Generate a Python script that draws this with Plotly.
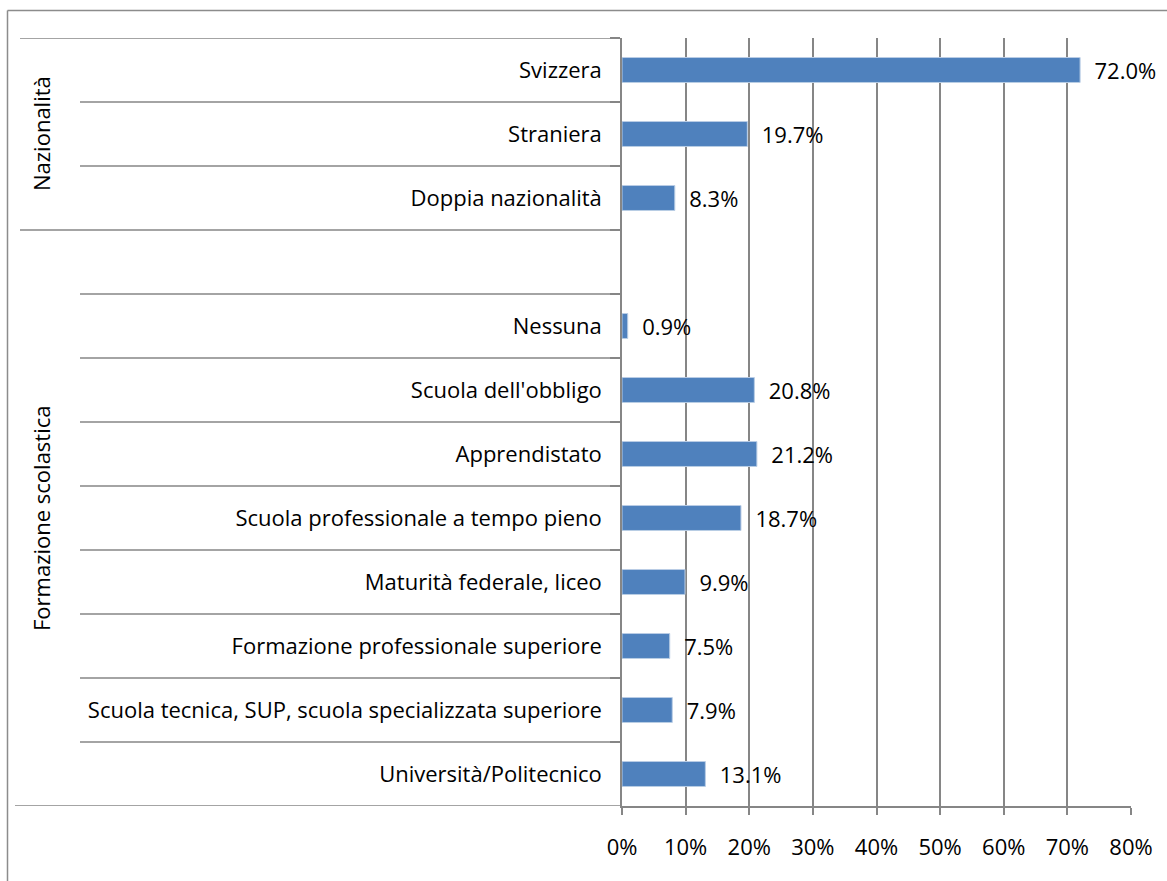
import plotly.graph_objects as go

# data (percent)
nazionalita_labels = ["Svizzera", "Straniera", "Doppia nazionalità"]
nazionalita_values = [72.0, 19.7, 8.3]

formazione_labels = [
    "Nessuna",
    "Scuola dell'obbligo",
    "Apprendistato",
    "Scuola professionale a tempo pieno",
    "Maturità federale, liceo",
    "Formazione professionale superiore",
    "Scuola tecnica, SUP, scuola specializzata superiore",
    "Università/Politecnico",
]
formazione_values = [0.9, 20.8, 21.2, 18.7, 9.9, 7.5, 7.9, 13.1]

group_names = ["Nazionalità", "Formazione scolastica"]
x_ticks = [0, 10, 20, 30, 40, 50, 60, 70, 80]

# an empty slot opens the second group, like in the original sheet
spacer = " "
categories = nazionalita_labels + [spacer] + formazione_labels

W, H = 1167, 881
L, R, T, B = 622, 36, 38, 75
plot_w = W - L - R
plot_h = H - T - B

GRID = "#868686"
BAR = "#4f81bd"
FONT = "Open Sans, Noto Sans, sans-serif"
FS = 22


def px_x(x):
    # pixel column -> paper x
    return (x - L) / plot_w


def px_y(y):
    # pixel row -> paper y
    return (H - B - y) / plot_h


fig = go.Figure()

fig.add_trace(go.Bar(
    y=nazionalita_labels + formazione_labels,
    x=nazionalita_values + formazione_values,
    orientation="h",
    marker=dict(color=BAR, line=dict(color="#b9cde5", width=1)),
    texttemplate="\u00a0\u00a0%{x:.1f}%",
    textposition="outside",
    textfont=dict(color="black", size=FS, family=FONT),
    constraintext="none",
    cliponaxis=False,
    hoverinfo="skip",
))

n = len(categories)
n_naz = len(nazionalita_labels)

shapes = []
# row separators in the label area
for i in range(n + 1):
    yb = i - 0.5
    if i in (0, n_naz):
        x0 = px_x(20)
    elif i == n:
        x0 = px_x(15)
    else:
        x0 = px_x(80)
    shapes.append(dict(type="line", xref="paper", yref="y", x0=x0, x1=0,
                       y0=yb, y1=yb, line=dict(color=GRID, width=1.5)))

# outer chart border (only top and left edges are in view)
shapes.append(dict(type="line", xref="paper", yref="paper",
                   x0=px_x(7.5), x1=px_x(W + 5), y0=px_y(10.5), y1=px_y(10.5),
                   line=dict(color="#8c8c8c", width=1.5)))
shapes.append(dict(type="line", xref="paper", yref="paper",
                   x0=px_x(7.5), x1=px_x(7.5), y0=px_y(10.5), y1=px_y(H + 5),
                   line=dict(color="#8c8c8c", width=1.5)))

annotations = [
    dict(text=group_names[0], xref="paper", yref="y", x=px_x(41), y=(n_naz - 1) / 2,
         xanchor="center", yanchor="middle", textangle=-90, showarrow=False,
         font=dict(size=FS, color="black", family=FONT)),
    dict(text=group_names[1], xref="paper", yref="y", x=px_x(41), y=(n_naz + n - 1) / 2,
         xanchor="center", yanchor="middle", textangle=-90, showarrow=False,
         font=dict(size=FS, color="black", family=FONT)),
]

fig.update_layout(
    width=W, height=H,
    margin=dict(l=L, r=R, t=T, b=B),
    paper_bgcolor="white", plot_bgcolor="white",
    bargap=0.61,
    showlegend=False,
    shapes=shapes,
    annotations=annotations,
    font=dict(family=FONT, size=FS, color="black"),
)

fig.update_xaxes(
    range=[0, 80], tickvals=x_ticks, ticktext=[f"{v}%" for v in x_ticks],
    showgrid=True, gridcolor=GRID, gridwidth=1.5,
    showline=True, linecolor=GRID, linewidth=1.5,
    ticks="outside", ticklen=7, tickcolor=GRID, tickwidth=1.5,
    ticklabelstandoff=14, zeroline=False,
    tickfont=dict(size=FS, color="black"),
)

fig.update_yaxes(
    type="category", categoryorder="array", categoryarray=categories,
    range=[n - 0.5, -0.5],
    showgrid=False, showline=True, linecolor=GRID, linewidth=1.5,
    ticks="outside", tickson="boundaries", ticklen=10, tickcolor=GRID, tickwidth=1.5,
    ticklabelstandoff=14,
    tickfont=dict(size=FS, color="black"),
)

fig.write_html("out.html", config={"displayModeBar": False},
               post_script="document.body.style.margin='0';")
